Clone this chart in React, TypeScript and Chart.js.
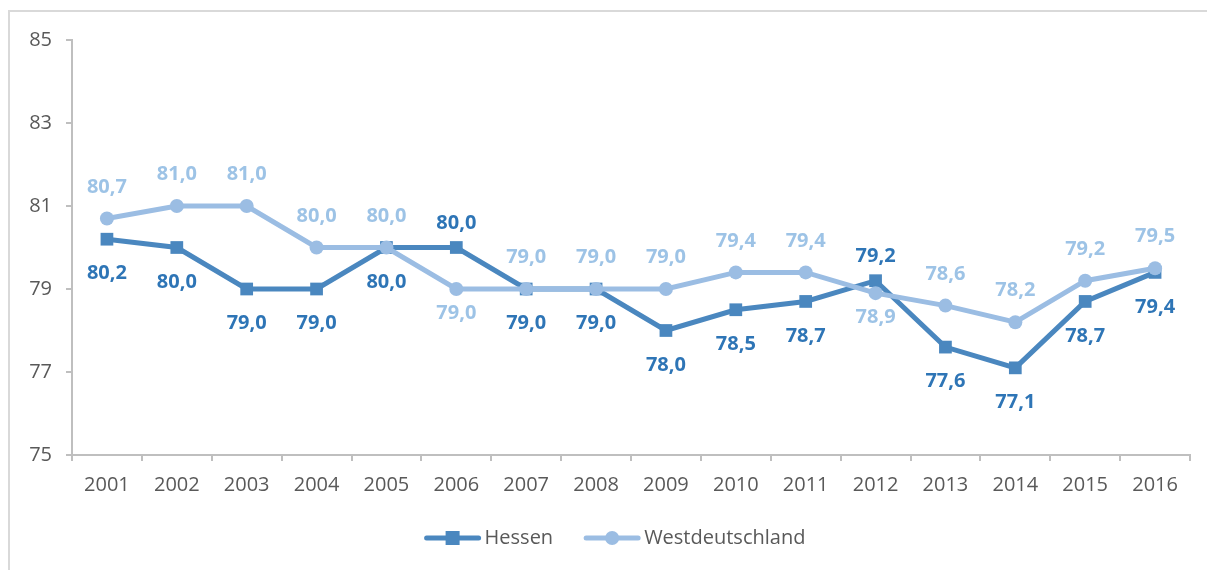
import React, { useEffect, useRef } from "react";
import { Chart, registerables } from "chart.js";

Chart.register(...registerables);

const years = ["2001", "2002", "2003", "2004", "2005", "2006", "2007", "2008", "2009", "2010", "2011", "2012", "2013", "2014", "2015", "2016"];
const hessen = [80.2, 80.0, 79.0, 79.0, 80.0, 80.0, 79.0, 79.0, 78.0, 78.5, 78.7, 79.2, 77.6, 77.1, 78.7, 79.4];
const west = [80.7, 81.0, 81.0, 80.0, 80.0, 79.0, 79.0, 79.0, 79.0, 79.4, 79.4, 78.9, 78.6, 78.2, 79.2, 79.5];
// label placement: 1 = above the point, -1 = below
const hessenLabelSide = [-1, -1, -1, -1, -1, 1, -1, -1, -1, -1, -1, 1, -1, -1, -1, -1];
const westLabelSide = [1, 1, 1, 1, 1, -1, 1, 1, 1, 1, 1, -1, 1, 1, 1, 1];

const HESSEN_COLOR = "#4a87bf";
const WEST_COLOR = "#9bbde3";
const HESSEN_LABEL = "#2e75b6";
const WEST_LABEL = "#9dc3e6";
const FONT = "'Open Sans', 'DejaVu Sans', sans-serif";

// offsets (px) from the point to the label centre: [above, below]
const labelOffsets = [
  [24, 34.5],
  [31.5, 24],
];

const labelPlugin = {
  id: "valueLabels",
  afterDatasetsDraw(chart: any) {
    const ctx = chart.ctx;
    ctx.save();
    ctx.font = `bold 20px ${FONT}`;
    ctx.textAlign = "center";
    ctx.textBaseline = "middle";
    chart.data.datasets.forEach((ds: any, di: number) => {
      const meta = chart.getDatasetMeta(di);
      const sides = di === 0 ? hessenLabelSide : westLabelSide;
      const [up, down] = labelOffsets[di];
      ctx.fillStyle = di === 0 ? HESSEN_LABEL : WEST_LABEL;
      meta.data.forEach((pt: any, i: number) => {
        const v = ds.data[i] as number;
        const txt = v.toFixed(1).replace(".", ",");
        const dy = sides[i] > 0 ? -up : down;
        ctx.fillText(txt, pt.x, pt.y + dy);
      });
    });
    ctx.restore();
  },
};

const legendPlugin = {
  id: "lineLegend",
  afterDraw(chart: any) {
    const ctx = chart.ctx;
    ctx.save();
    ctx.font = `20px ${FONT}`;
    ctx.textBaseline = "middle";
    const items = [
      { text: "Hessen", color: HESSEN_COLOR, style: "rect" },
      { text: "Westdeutschland", color: WEST_COLOR, style: "circle" },
    ];
    const lineLen = 56;
    const textGap = 4;
    const itemGap = 31;
    const widths = items.map((it) => lineLen + textGap + ctx.measureText(it.text).width);
    const total = widths.reduce((a, b) => a + b, 0) + itemGap * (items.length - 1);
    let x = 615 - total / 2;
    const y = 538;
    items.forEach((it, i) => {
      ctx.strokeStyle = it.color;
      ctx.lineWidth = 5;
      ctx.lineCap = "round";
      ctx.beginPath();
      ctx.moveTo(x + 2, y);
      ctx.lineTo(x + lineLen - 2, y);
      ctx.stroke();
      ctx.fillStyle = it.color;
      if (it.style === "rect") {
        ctx.fillRect(x + lineLen / 2 - 7, y - 7, 14, 14);
      } else {
        ctx.beginPath();
        ctx.arc(x + lineLen / 2, y, 7, 0, Math.PI * 2);
        ctx.fill();
      }
      ctx.fillStyle = "#595959";
      ctx.fillText(it.text, x + lineLen + textGap, y);
      x += widths[i] + itemGap;
    });
    ctx.restore();
  },
};

export default function App() {
  const ref = useRef<HTMLCanvasElement>(null);
  useEffect(() => {
    document.body.style.overflow = "hidden";
    const chart = new Chart(ref.current as HTMLCanvasElement, {
      type: "line",
      data: {
        labels: years,
        datasets: [
          {
            label: "Hessen",
            data: hessen,
            borderColor: HESSEN_COLOR,
            backgroundColor: HESSEN_COLOR,
            borderWidth: 5,
            pointStyle: "rect",
            pointRadius: 9,
            pointBorderWidth: 0,
            tension: 0,
            order: 1,
          },
          {
            label: "Westdeutschland",
            data: west,
            borderColor: WEST_COLOR,
            backgroundColor: WEST_COLOR,
            borderWidth: 5,
            pointStyle: "circle",
            pointRadius: 7,
            pointBorderWidth: 0,
            tension: 0,
            order: 0,
          },
        ],
      },
      options: {
        responsive: false,
        animation: false,
        devicePixelRatio: 1,
        layout: { padding: { left: 0, right: 17, top: 40, bottom: 0 } },
        plugins: { legend: { display: false }, tooltip: { enabled: false } },
        scales: {
          x: {
            offset: true,
            grid: { display: true, offset: true, drawOnChartArea: false, drawTicks: true, tickLength: 6, color: "#bfbfbf", lineWidth: 2 },
            border: { display: true, color: "#bfbfbf", width: 2 },
            ticks: { color: "#595959", font: { family: FONT, size: 20 }, padding: 12, maxRotation: 0, autoSkip: false },
            afterFit(scale: any) {
              scale.height = 115;
            },
          },
          y: {
            min: 75,
            max: 85,
            grid: { display: true, drawOnChartArea: false, drawTicks: true, tickLength: 6, color: "#bfbfbf", lineWidth: 2 },
            border: { display: true, color: "#bfbfbf", width: 2 },
            ticks: { stepSize: 2, color: "#595959", font: { family: FONT, size: 20 }, padding: 14 },
            afterFit(scale: any) {
              scale.width = 72;
            },
          },
        },
      },
      plugins: [labelPlugin, legendPlugin],
    });
    return () => chart.destroy();
  }, []);
  return (
    <>
      <div
        style={{
          position: "fixed",
          left: 8,
          top: 10,
          width: 1300,
          height: 700,
          border: "2px solid #d9d9d9",
          boxSizing: "border-box",
        }}
      />
      <canvas
        ref={ref}
        width={1207}
        height={570}
        style={{ position: "fixed", left: 0, top: 0, width: 1207, height: 570 }}
      />
    </>
  );
}
